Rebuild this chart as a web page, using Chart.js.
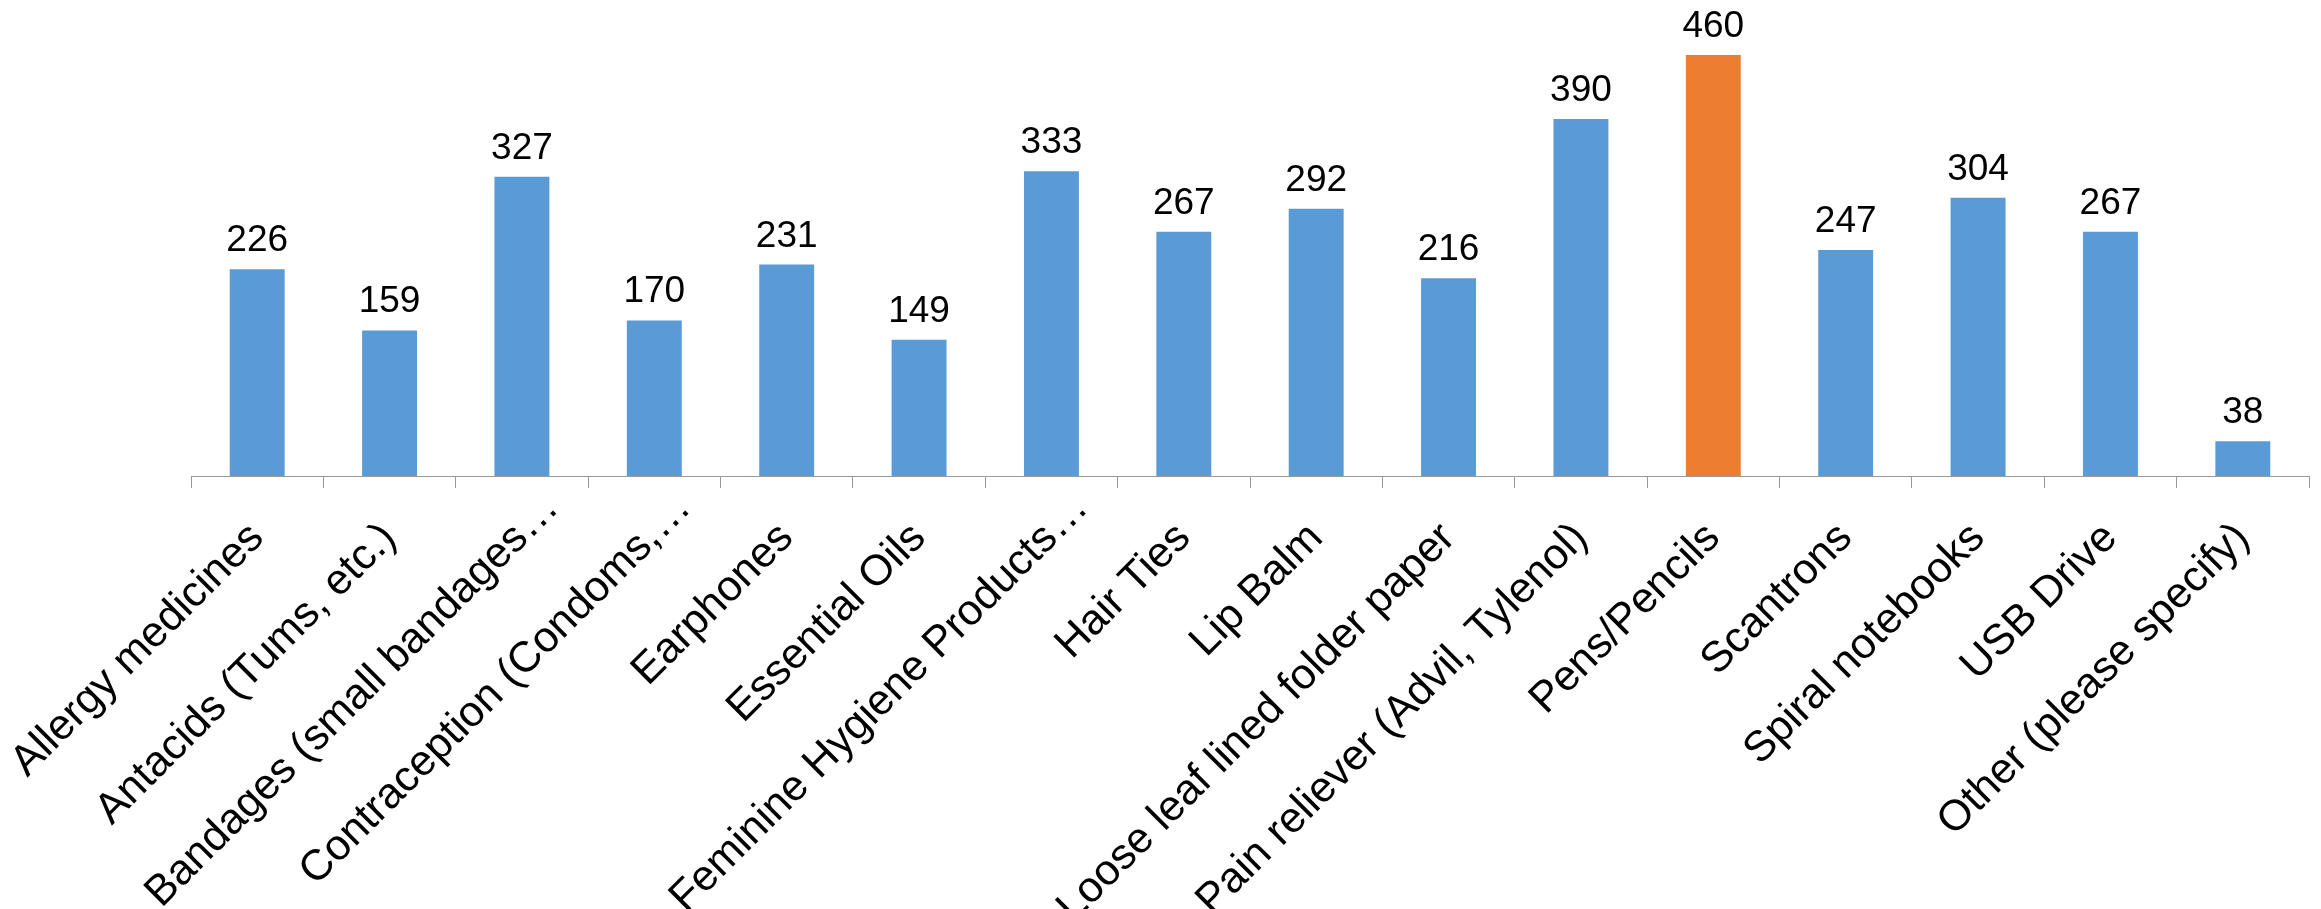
<!DOCTYPE html>
<html>
<head>
<meta charset="utf-8">
<script src="https://cdn.jsdelivr.net/npm/chart.js@4.4.0/dist/chart.umd.min.js"></script>
<style>
  html, body { margin: 0; padding: 0; background: #fff; }
  #box { width: 2321px; height: 909px; }
</style>
</head>
<body>
<div id="box"><canvas id="grafico"></canvas></div>
<script>
// dados
const categorias = [
    'Allergy medicines',
    'Antacids (Tums, etc.)',
    'Bandages (small bandages…',
    'Contraception (Condoms,…',
    'Earphones',
    'Essential Oils',
    'Feminine Hygiene Products…',
    'Hair Ties',
    'Lip Balm',
    'Loose leaf lined folder paper',
    'Pain reliever (Advil, Tylenol)',
    'Pens/Pencils',
    'Scantrons',
    'Spiral notebooks',
    'USB Drive',
    'Other (please specify)'
];
const valores = [226, 159, 327, 170, 231, 149, 333, 267, 292, 216, 390, 460, 247, 304, 267, 38];
const destaque = 'Pens/Pencils'; // barra laranja

const azul = '#5B9BD5';
const laranja = '#ED7D31';

// rótulos de valor acima das barras
const rotulosValor = {
    id: 'rotulosValor',
    afterDatasetsDraw(chart) {
        const ctx = chart.ctx;
        ctx.save();
        ctx.font = '37px "Liberation Sans", Arial, sans-serif';
        ctx.fillStyle = '#000';
        ctx.textAlign = 'center';
        ctx.textBaseline = 'alphabetic';
        chart.getDatasetMeta(0).data.forEach((bar, i) => {
            ctx.fillText(String(valores[i]), bar.x, bar.y - 18);
        });
        ctx.restore();
    }
};

// rótulos cortados ("…") ficam um pouco mais acima/à direita, como no Excel
const ajusteCortados = {
    id: 'ajusteCortados',
    beforeDraw(chart) {
        const itens = chart.scales.x.getLabelItems();
        itens.forEach(it => {
            if (!it._ajustado && String(it.label).endsWith('…')) {
                it.options.translation[0] += 30;
                it.options.translation[1] -= 30;
                it._ajustado = true;
            }
        });
    }
};

new Chart(document.getElementById('grafico'), {
    type: 'bar',
    data: {
        labels: categorias,
        datasets: [{
            data: valores,
            backgroundColor: c => categorias[c.dataIndex] === destaque ? laranja : azul,
            categoryPercentage: 1,
            barPercentage: 0.415
        }]
    },
    options: {
        responsive: true,
        maintainAspectRatio: false,
        animation: false,
        layout: { padding: { left: 191, right: 12, top: 18.4, bottom: 0 } },
        plugins: { legend: { display: false }, tooltip: { enabled: false } },
        scales: {
            x: {
                grid: { display: true, drawOnChartArea: false, tickLength: 12, color: '#999', lineWidth: 1 },
                border: { display: true, color: '#999', width: 1 },
                ticks: {
                    autoSkip: false,
                    maxRotation: 45,
                    minRotation: 45,
                    labelOffset: 0,
                    padding: 28,
                    color: '#000',
                    font: { family: '"Liberation Sans", Arial, sans-serif', size: 43, lineHeight: 1 }
                },
                afterFit(scale) {
                    scale.paddingLeft = 0;
                    scale.paddingRight = 0;
                    scale.height = 433;
                }
            },
            y: {
                display: false,
                min: 0,
                max: 500
            }
        }
    },
    plugins: [rotulosValor, ajusteCortados]
});
</script>
</body>
</html>
